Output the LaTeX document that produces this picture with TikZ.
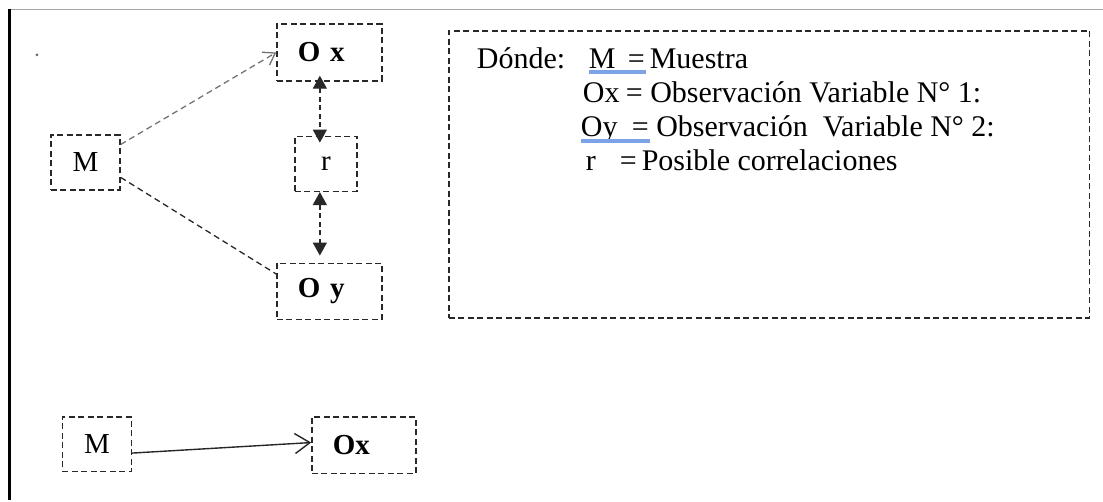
\documentclass[tikz,border=0pt]{standalone}
\usepackage{fontspec}
\setmainfont{Liberation Serif}
\usetikzlibrary{positioning,arrows.meta}
\definecolor{spellblue}{RGB}{124,163,230}
\definecolor{linegray}{RGB}{40,40,40}

\begin{document}
\begin{tikzpicture}[x=1pt,y=-1pt,
  every node/.style={font=\fontsize{29}{34}\selectfont},
  box/.style={draw=linegray,line width=1.4pt,dash pattern=on 6pt off 3.5pt},
  small box/.style={box,minimum width=69pt,minimum height=55pt,inner sep=0pt},
  obs box/.style={box,minimum height=57pt,text width=63pt,inner xsep=21pt,
    inner ysep=0pt,align=left,font=\fontsize{29}{34}\selectfont\bfseries},
  note text/.style={anchor=base west,inner sep=0pt,font=\fontsize{30}{36}\selectfont},
  link/.style={draw=linegray,line width=1.3pt,dash pattern=on 6pt off 4pt},
  pair/.style={link,dash pattern=on 5pt off 3.5pt,
    {Triangle[length=13pt,width=14pt]}-{Triangle[length=13pt,width=14pt]}},
  spell line/.style={spellblue,line width=4pt}]

  % frame of the page
  \draw[black!35,line width=1pt] (10,10) -- (1103,10);
  \draw[line width=3pt] (10,8.5) -- (10,500);
  \fill[black!60] (37,55) circle (1.5pt);

  % design
  \node[obs box] (ox) at (329.5,52.5) {O x};
  \node[small box,minimum width=62pt] (r) [below=54pt of ox,xshift=-3.5pt] {r};
  \node[obs box,minimum height=56pt] (oy) [below=181pt of ox] {O y};
  \node[small box] (m) at (85.5,162.5) {M};

  \draw[link,-{Straight Barb[length=11pt,width=15pt]},black!55] (m.27) -- (ox.west);
  \draw[link] (m.-23) -- (oy.162);
  \draw[pair,shorten <=-6pt,shorten >=-7pt]
    ([xshift=-9.5pt]ox.south) -- ([xshift=-6pt]r.north);
  \draw[pair,shorten >=7pt]
    ([xshift=-6pt]r.south) -- ([xshift=-9.5pt]oy.north);

  % legend
  \node[box,minimum width=641pt,minimum height=287pt] (note) at (769.5,174.5) {};
  \node[note text] (where) at (477,69) {Dónde:};
  \node[note text] (key1) at (589,69) {M};
  \node[note text] (def1) at (628,69) {=\,Muestra};
  \node[note text] (key2) at (583,103) {Ox};
  \node[note text] (def2) at (626,103) {= Observación Variable N° 1:};
  \node[note text] (key3) at (581,137) {Oy};
  \node[note text] (def3) at (632,137) {= Observación\ \ Variable N° 2:};
  \node[note text] (key4) at (586,171) {r};
  \node[note text] (def4) at (620,171) {=\,Posible correlaciones};
  \draw[spell line] ([yshift=-3pt]key1.base west) -- ([yshift=-3pt,xshift=18pt]def1.base west);
  \draw[spell line] ([yshift=-4pt]key3.base west) -- ([yshift=-4pt,xshift=18pt]def3.base west);

  % simple case
  \node[small box] (m2) at (97,444.5) {M};
  \node[obs box,text width=62pt] (ox2) at (364,445.5) {Ox};
  \draw[line width=1.4pt,black!85,-{Straight Barb[length=15pt,width=20pt]}] (m2.-14) -- (ox2.177);

  \useasboundingbox (0,0) rectangle (1103,500);
\end{tikzpicture}
\end{document}
